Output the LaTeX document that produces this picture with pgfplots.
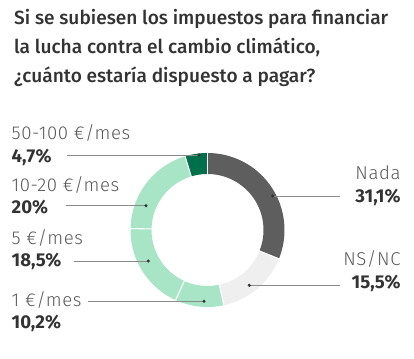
\documentclass[border=0pt]{standalone}
\usepackage{pgfplots}
\pgfplotsset{compat=1.18}
\usepackage{fontspec}
\setmainfont{Fira Sans}
\newfontfamily\titlefont{Fira Sans Medium}
\newfontfamily\lightfont{Fira Sans Light}[LetterSpace=3]
\definecolor{nada}{HTML}{5E5E5E}
\definecolor{nsnc}{HTML}{EFEFEF}
\definecolor{lgreen}{HTML}{A8E4C6}
\definecolor{dgreen}{HTML}{00704A}
\definecolor{txt}{HTML}{333333}
\definecolor{lbl}{HTML}{5A5A5A}
\definecolor{leader}{HTML}{8A8A8A}
\tikzset{
  seg/.style={line width=21bp, line cap=butt, line join=round},
  sep/.style={white, line width=1.1bp},
  lead/.style={leader, line width=0.6bp},
  lname/.style={inner sep=0pt, font=\lightfont\fontsize{18.6bp}{22bp}\selectfont, text=lbl},
  lval/.style={inner sep=0pt, font=\bfseries\fontsize{18.6bp}{22bp}\selectfont, text=txt},
  ttl/.style={inner sep=0pt, anchor=base west, font=\titlefont\fontsize{19.1bp}{23bp}\selectfont, text=txt}}
\begin{document}
\begin{tikzpicture}
\path[use as bounding box] (0,0) rectangle (414bp,359bp);
\begin{axis}[at={(0,0)}, anchor=south west, scale only axis,
  width=414bp, height=359bp, xmin=0, xmax=414, ymin=0, ymax=359,
  hide axis, clip=false]
% donut segments: percentages, clockwise from top
\addplot[seg, nada,   samples=90, domain=0:31.1]    ({207.5+66.5*sin(3.6*x)},{129+66.5*cos(3.6*x)});
\addplot[seg, nsnc,   samples=90, domain=31.1:46.6] ({207.5+66.5*sin(3.6*x)},{129+66.5*cos(3.6*x)});
\addplot[seg, lgreen, samples=90, domain=46.6:56.8] ({207.5+66.5*sin(3.6*x)},{129+66.5*cos(3.6*x)});
\addplot[seg, lgreen, samples=90, domain=56.8:75.3] ({207.5+66.5*sin(3.6*x)},{129+66.5*cos(3.6*x)});
\addplot[seg, lgreen, samples=90, domain=75.3:95.3] ({207.5+66.5*sin(3.6*x)},{129+66.5*cos(3.6*x)});
\addplot[seg, dgreen, samples=90, domain=95.3:100]  ({207.5+66.5*sin(3.6*x)},{129+66.5*cos(3.6*x)});
% separators
\addplot[sep, samples=2, domain=54:79] ({207.5+x*sin(0)},{129+x*cos(0)});
\addplot[sep, samples=2, domain=54:79] ({207.5+x*sin(3.6*31.1)},{129+x*cos(3.6*31.1)});
\addplot[sep, samples=2, domain=54:79] ({207.5+x*sin(3.6*46.6)},{129+x*cos(3.6*46.6)});
\addplot[sep, samples=2, domain=54:79] ({207.5+x*sin(3.6*56.8)},{129+x*cos(3.6*56.8)});
\addplot[sep, samples=2, domain=54:79] ({207.5+x*sin(3.6*75.3)},{129+x*cos(3.6*75.3)});
\addplot[sep, samples=2, domain=54:79] ({207.5+x*sin(3.6*95.3)},{129+x*cos(3.6*95.3)});
% leader lines
\addplot[lead] coordinates {(66.7,204) (199,204)};
\addplot[lead] coordinates {(66,153.3) (146,153.3)};
\addplot[lead] coordinates {(74,98) (148.3,98)};
\addplot[lead] coordinates {(88,57.7) (204,57.7)};
\addplot[lead] coordinates {(272.7,163) (340,163)};
\addplot[lead] coordinates {(249.3,73.7) (340,73.7)};
\addplot[only marks, mark=*, mark size=1.4bp, mark options={fill=txt, draw=txt}] coordinates {(199,204) (146,153.3) (148.3,98) (204,57.7) (272.7,163) (249.3,73.7)};
% title
\node[ttl] at (axis cs:14,334) {Si se subiesen los impuestos para financiar};
\node[ttl] at (axis cs:14,305) {la lucha contra el cambio climático,};
\node[ttl] at (axis cs:14,276) {¿cuánto estaría dispuesto a pagar?};
% left labels
\node[anchor=base west, lname] at (axis cs:11.5,219) {50-100 €/mes};
\node[anchor=base west, lval] at (axis cs:11.5,196.7) {4,7\%};
\node[anchor=base west, lname] at (axis cs:11.5,167.3) {10-20 €/mes};
\node[anchor=base west, lval] at (axis cs:11.5,145.7) {20\%};
\node[anchor=base west, lname] at (axis cs:11.5,114) {5 €/mes};
\node[anchor=base west, lval] at (axis cs:11.5,92.3) {18,5\%};
\node[anchor=base west, lname] at (axis cs:11.5,52.3) {1 €/mes};
\node[anchor=base west, lval] at (axis cs:11.5,30.7) {10,2\%};
% right labels
\node[anchor=base east, lname] at (axis cs:400.7,179) {Nada};
\node[anchor=base east, lval] at (axis cs:400.7,156.7) {31,1\%};
\node[anchor=base east, lname] at (axis cs:400.7,93.3) {NS/NC};
\node[anchor=base east, lval] at (axis cs:400.7,70) {15,5\%};
\end{axis}
\end{tikzpicture}
\end{document}
